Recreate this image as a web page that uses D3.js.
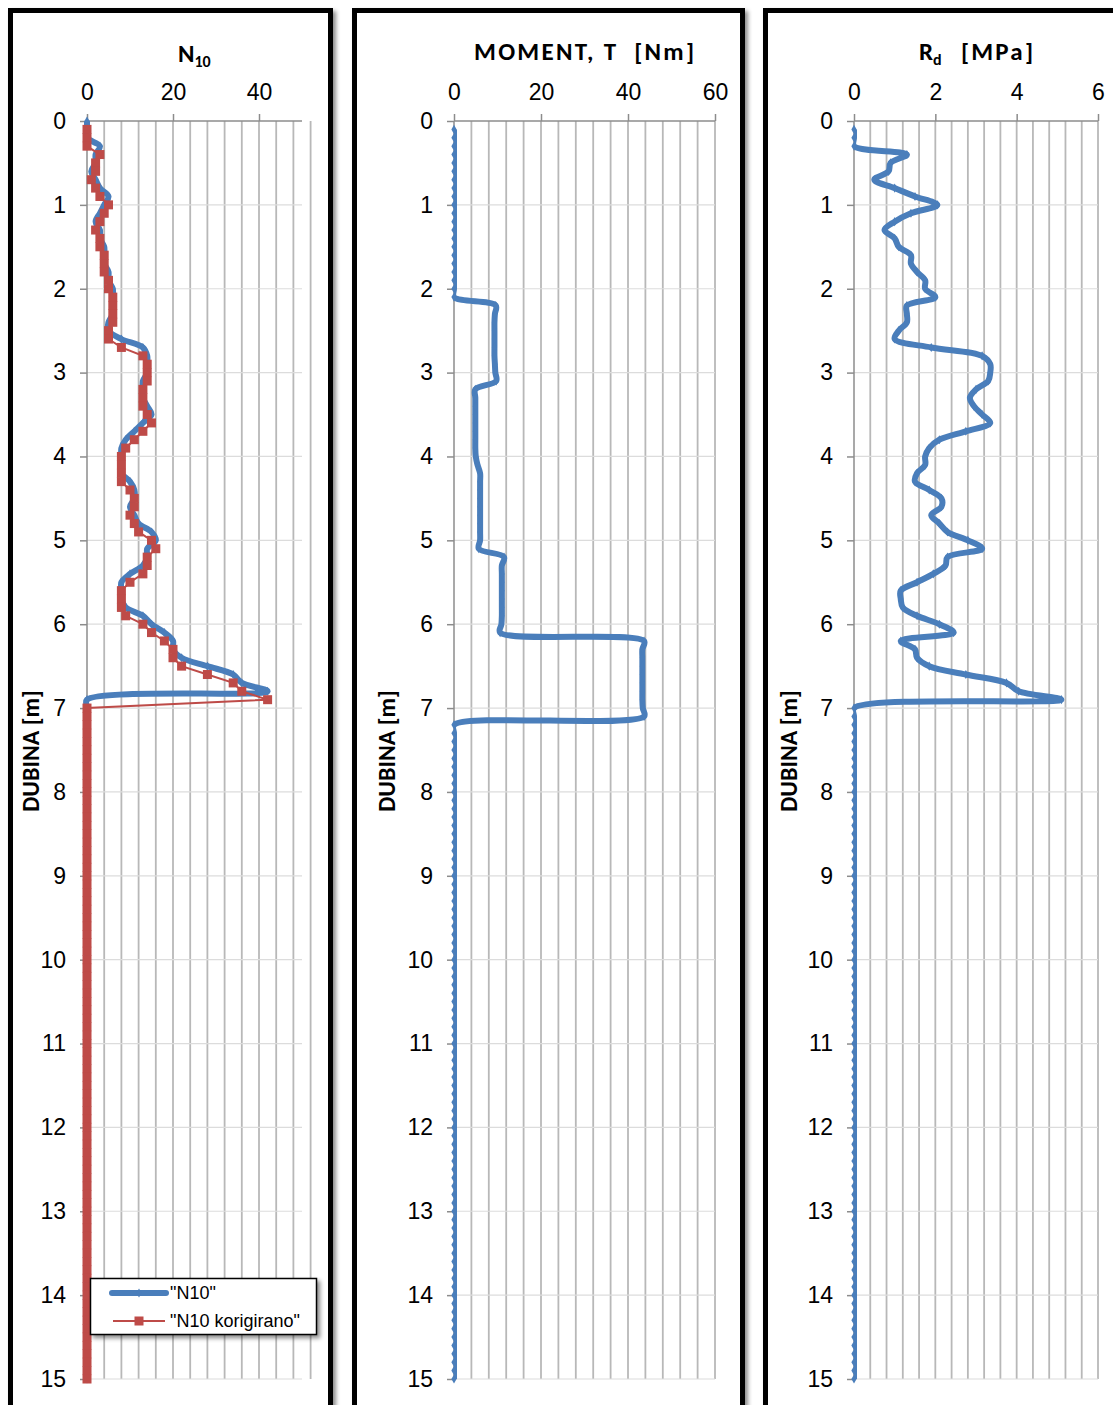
<!DOCTYPE html>
<html>
<head>
<meta charset="utf-8">
<script src="https://cdn.jsdelivr.net/npm/d3@7"></script>
<style>
  body { margin: 0; background: #fff; }
  .tick-lbl { font-family: 'Liberation Sans Narrow', 'Arial Narrow', 'Liberation Sans', Arial, sans-serif; font-size: 23px; fill: #000; }
  .ttl { font-family: Carlito, Lato, 'Open Sans', sans-serif; font-weight: bold; font-size: 25px; fill: #000; }
  .leg { font-family: 'Liberation Sans Narrow', 'Arial Narrow', 'Liberation Sans', Arial, sans-serif; font-size: 18px; fill: #000; }
</style>
</head>
<body>
<script>
// depths (m) - one reading every 0.1 m
var depthAll = d3.range(0, 151).map(i => i / 10);      // 0.0 .. 15.0
var depthFrom01 = d3.range(1, 151).map(i => i / 10);   // 0.1 .. 15.0

// N10 (blue), from 0.0 m
var n10 = [
  0,0,0,3,2,2,1,2,3,5,
  4,3,2,3,3,4,4,4,5,5,
  6,6,6,6,5,5,8,13,14,14,
  14,13,13,13,14,15,13,11,9,8,
  8,8,8,10,11,11,10,11,12,15,
  16,14,14,13,10,8,8,8,9,13,
  15,18,20,20,22,28,34,36,42,0,
  0,0,0,0,0,0,0,0,0,0, 0,0,0,0,0,0,0,0,0,0,
  0,0,0,0,0,0,0,0,0,0, 0,0,0,0,0,0,0,0,0,0,
  0,0,0,0,0,0,0,0,0,0, 0,0,0,0,0,0,0,0,0,0,
  0,0,0,0,0,0,0,0,0,0, 0,0,0,0,0,0,0,0,0,0,
  0
];

// N10 korigirano (red), from 0.1 m
var n10kor = [
  0,0,0,3,2,2,1,2,3,5,
  4,3,2,3,3,4,4,4,5,5,
  6,6,6,6,5,5,8,13,14,14,
  14,13,13,13,14,15,13,11,9,8,
  8,8,8,10,11,11,10,11,12,15,
  16,14,14,13,10,8,8,8,9,13,
  15,18,20,20,22,28,34,36,42,0,
  0,0,0,0,0,0,0,0,0,0, 0,0,0,0,0,0,0,0,0,0,
  0,0,0,0,0,0,0,0,0,0, 0,0,0,0,0,0,0,0,0,0,
  0,0,0,0,0,0,0,0,0,0, 0,0,0,0,0,0,0,0,0,0,
  0,0,0,0,0,0,0,0,0,0, 0,0,0,0,0,0,0,0,0,0
];

// MOMENT T [Nm], from 0.1 m
var moment = [
  0,0,0,0,0,0,0,0,0,0,
  0,0,0,0,0,0,0,0,0,0,
  0,9.6,9.4,9.3,9.3,9.3,9.3,9.3,9.4,9.5,
  9.7,4.9,4.9,4.9,4.9,4.9,4.9,4.9,4.9,5.0,
  5.4,6.0,6.0,6.0,6.0,6.0,6.0,6.0,6.0,6.0,
  5.7,11.5,11.0,11.0,11.0,11.0,11.0,11.0,11.0,10.9,
  10.6,43.7,43.3,43.3,43.3,43.3,43.3,43.3,43.3,43.4,
  43.7,0,0,0,0,0,0,0,0,0, 0,0,0,0,0,0,0,0,0,0,
  0,0,0,0,0,0,0,0,0,0, 0,0,0,0,0,0,0,0,0,0,
  0,0,0,0,0,0,0,0,0,0, 0,0,0,0,0,0,0,0,0,0,
  0,0,0,0,0,0,0,0,0,0, 0,0,0,0,0,0,0,0,0,0
];

// Rd [MPa], from 0.1 m
var rd = [
  0,0,0,1.3,0.9,0.85,0.5,1.0,1.5,2.05,
  1.4,1.0,0.75,1.0,1.1,1.4,1.4,1.55,1.75,1.75,
  2.0,1.3,1.3,1.3,1.1,1.0,1.9,3.15,3.35,3.35,
  3.3,3.0,2.85,2.95,3.15,3.35,2.75,2.1,1.85,1.75,
  1.75,1.55,1.5,1.85,2.15,2.15,1.9,2.1,2.3,2.8,
  3.15,2.3,2.25,1.95,1.55,1.15,1.15,1.2,1.55,2.1,
  2.45,1.15,1.5,1.55,1.85,2.75,3.75,4.05,5.1,0,
  0,0,0,0,0,0,0,0,0,0, 0,0,0,0,0,0,0,0,0,0,
  0,0,0,0,0,0,0,0,0,0, 0,0,0,0,0,0,0,0,0,0,
  0,0,0,0,0,0,0,0,0,0, 0,0,0,0,0,0,0,0,0,0,
  0,0,0,0,0,0,0,0,0,0, 0,0,0,0,0,0,0,0,0,0
];

var depthTicks = d3.range(0, 16);
var blue = "#4a7ebb", red = "#be4b48";

var svg = d3.select("body").append("svg")
    .attr("width", 1113)
    .attr("height", 1405);

var defs = svg.append("defs");
var shadow = defs.append("filter").attr("id", "shd")
    .attr("x", "-10%").attr("y", "-10%").attr("width", "130%").attr("height", "130%");
shadow.append("feDropShadow").attr("dx", 3).attr("dy", 3).attr("stdDeviation", 2)
    .attr("flood-color", "#000").attr("flood-opacity", 0.45);

var yTop = 121, yBot = 1379;
var y = d3.scaleLinear().domain([0, 15]).range([yTop, yBot]);

var panels = [
  {id: "p1", frame: [10.5, 320], x0: 87, x1: 302, max: 50, step: 4, ticks: [0, 20, 40], ylab: 31, clip: false},
  {id: "p2", frame: [354.5, 388], x0: 454, x1: 715, max: 60, step: 4, ticks: [0, 20, 40, 60], ylab: 387, clip: true},
  {id: "p3", frame: [765.5, 400], x0: 854, x1: 1098, max: 6, step: 0.4, ticks: [0, 2, 4, 6], ylab: 789, clip: true}
];

panels.forEach(p => {
  // frame
  svg.append("rect")
    .attr("x", p.frame[0]).attr("y", 10.5)
    .attr("width", p.frame[1]).attr("height", 1420)
    .attr("fill", "#fff").attr("stroke", "#000").attr("stroke-width", 5)
    .attr("filter", "url(#shd)");

  p.x = d3.scaleLinear().domain([0, p.max]).range([p.x0, p.x1]);
  var g = svg.append("g");

  // gridlines
  var gridVals = d3.range(0, Math.round(p.max / p.step) + 1).map(i => +(i * p.step).toFixed(2))
      .filter(v => v > 0);
  g.selectAll(".vg").data(gridVals).enter().append("line")
    .attr("x1", d => p.x(d)).attr("x2", d => p.x(d))
    .attr("y1", yTop).attr("y2", yBot)
    .attr("stroke", "#b8b8b8").attr("stroke-width", 1.8);
  g.selectAll(".hg").data(depthTicks.filter(d => d > 0)).enter().append("line")
    .attr("x1", p.x0).attr("x2", p.x1)
    .attr("y1", d => y(d)).attr("y2", d => y(d))
    .attr("stroke", "#dcdcdc").attr("stroke-width", 1.2);

  // top axis
  var xa = g.append("g").attr("transform", `translate(0,${yTop})`)
    .call(d3.axisTop(p.x).tickValues(p.ticks).tickSize(7).tickPadding(14).tickFormat(d3.format("d")));
  xa.select(".domain").attr("stroke", "#8c8c8c").attr("stroke-width", 1.5).attr("d", `M${p.x0},0H${p.x1}`);
  xa.selectAll(".tick line").attr("stroke", "#8c8c8c").attr("stroke-width", 1.5);
  xa.selectAll(".tick text").attr("class", "tick-lbl").attr("font-size", null).attr("font-family", null);

  // left axis
  var ya = g.append("g").attr("transform", `translate(${p.x0},0)`)
    .call(d3.axisLeft(y).tickValues(depthTicks).tickSize(7).tickPadding(14).tickFormat(d3.format("d")));
  ya.select(".domain").attr("stroke", "#8c8c8c").attr("stroke-width", 1.5).attr("d", `M0,${yTop}V${yBot}`);
  ya.selectAll(".tick line").attr("stroke", "#8c8c8c").attr("stroke-width", 1.5);
  ya.selectAll(".tick text").attr("class", "tick-lbl").attr("font-size", null).attr("font-family", null);

  // y label
  svg.append("text").attr("class", "ttl")
    .attr("transform", `translate(${p.ylab},751) rotate(-90)`)
    .attr("text-anchor", "middle").attr("dy", "0.35em")
    .style("font-size", "24px")
    .text("DUBINA [m]");

  if (p.clip) {
    defs.append("clipPath").attr("id", "clip-" + p.id).append("rect")
      .attr("x", p.x0).attr("y", yTop - 10).attr("width", p.x1 - p.x0 + 10).attr("height", yBot - yTop + 20);
  }
  p.g = svg.append("g").attr("clip-path", p.clip ? `url(#clip-${p.id})` : null);
  p.mg = svg.append("g");
});

function blueSeries(p, depths, vals) {
  var pts = depths.map((d, i) => [p.x(vals[i]), y(d)]);
  var line = d3.line().curve(d3.curveCatmullRom.alpha(0.5));
  p.g.append("path").attr("d", line(pts))
    .attr("fill", "none").attr("stroke", blue).attr("stroke-width", 6)
    .attr("stroke-linejoin", "round");
  p.mg.selectAll(null).data(pts).enter().append("path")
    .attr("transform", d => `translate(${d[0]},${d[1]})`)
    .attr("d", d3.symbol(d3.symbolDiamond, 24))
    .attr("fill", blue);
}

// panel 1: N10 + N10 korigirano
blueSeries(panels[0], depthAll, n10);
var p1 = panels[0];
var redPts = depthFrom01.map((d, i) => [p1.x(n10kor[i]), y(d)]);
p1.mg.append("path").attr("d", d3.line()(redPts))
  .attr("fill", "none").attr("stroke", red).attr("stroke-width", 2);
p1.mg.selectAll(null).data(redPts).enter().append("rect")
  .attr("x", d => d[0] - 4.5).attr("y", d => d[1] - 4.5)
  .attr("width", 9).attr("height", 9).attr("fill", red);

// panel 2 & 3
blueSeries(panels[1], depthFrom01, moment);
blueSeries(panels[2], depthFrom01, rd);

// titles
var t1 = svg.append("text").attr("class", "ttl").attr("x", 178).attr("y", 62);
t1.append("tspan").text("N");
t1.append("tspan").style("font-size", "16px").attr("dy", 5).text("10");

svg.append("text").attr("class", "ttl").attr("x", 474).attr("y", 60)
  .attr("xml:space", "preserve")
  .attr("textLength", 220).attr("lengthAdjust", "spacing")
  .text("MOMENT, T  [Nm]");

var t3 = svg.append("text").attr("class", "ttl").attr("x", 919).attr("y", 60)
  .attr("xml:space", "preserve");
t3.append("tspan").text("R");
t3.append("tspan").style("font-size", "16px").attr("dy", 5).text("d");
t3.append("tspan").attr("x", 961).attr("dy", -5)
  .attr("textLength", 72).attr("lengthAdjust", "spacing").text("[MPa]");

// legend
var lg = svg.append("g");
lg.append("rect").attr("x", 90.5).attr("y", 1278.5).attr("width", 226).attr("height", 56)
  .attr("fill", "#fff").attr("stroke", "#000").attr("stroke-width", 1.5).attr("filter", "url(#shd)");
lg.append("line").attr("x1", 112).attr("x2", 166).attr("y1", 1293).attr("y2", 1293)
  .attr("stroke", blue).attr("stroke-width", 6).attr("stroke-linecap", "round");
lg.append("path").attr("transform", "translate(139,1293)").attr("d", d3.symbol(d3.symbolDiamond, 24)).attr("fill", blue);
lg.append("text").attr("class", "leg").attr("x", 170).attr("y", 1293).attr("dy", "0.35em").text('"N10"');
lg.append("line").attr("x1", 113).attr("x2", 165).attr("y1", 1321).attr("y2", 1321)
  .attr("stroke", red).attr("stroke-width", 2);
lg.append("rect").attr("x", 134.5).attr("y", 1316.5).attr("width", 9).attr("height", 9).attr("fill", red);
lg.append("text").attr("class", "leg").attr("x", 170).attr("y", 1321).attr("dy", "0.35em").text('"N10 korigirano"');
</script>
</body>
</html>
